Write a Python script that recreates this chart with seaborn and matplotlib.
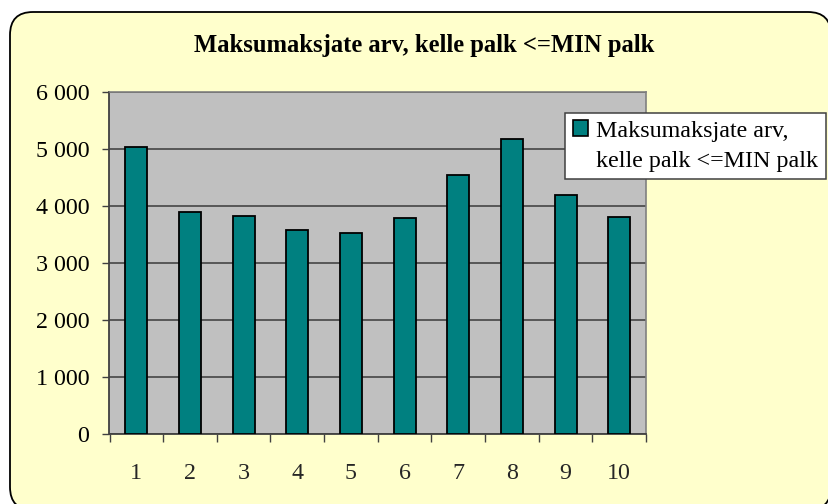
import matplotlib
matplotlib.use("Agg")
import matplotlib.pyplot as plt
import matplotlib.transforms as mtransforms
import seaborn as sns
import pandas as pd
from matplotlib.patches import FancyBboxPatch, Patch

categories = ["1", "2", "3", "4", "5", "6", "7", "8", "9", "10"]
values = [5030, 3885, 3830, 3575, 3520, 3780, 4540, 5180, 4185, 3800]
yticks = [0, 1000, 2000, 3000, 4000, 5000, 6000]
ytick_labels = ["0", "1 000", "2 000", "3 000", "4 000", "5 000", "6 000"]
title = "Maksumaksjate arv, kelle palk <=MIN palk"
legend_lines = ["Maksumaksjate arv,", "kelle palk <=MIN palk"]

sns.set_theme(style="white")
plt.rcParams['font.family'] = ['Liberation Serif', 'DejaVu Serif']

W, H = 829, 504
DPI = 100
px = 72.0 / DPI  # points per pixel
fig = plt.figure(figsize=(W / DPI, H / DPI), dpi=DPI)
fig.patch.set_facecolor("white")

# rounded border background (pixel coordinates, origin bottom-left)
bx0, bx1, by_top, by_bot = 10, 831, 12, 510
bg = FancyBboxPatch((bx0, H - by_bot), bx1 - bx0, by_bot - by_top,
                    boxstyle="round,pad=0,rounding_size=23",
                    transform=mtransforms.IdentityTransform(),
                    facecolor="#FFFFCC", edgecolor="black", linewidth=1.3,
                    zorder=-10)
fig.patches.append(bg)

left, right, top, bottom = 109.5, 646, 92, 433.5
ax = fig.add_axes([left / W, (H - bottom) / H, (right - left) / W, (bottom - top) / H])
ax.set_zorder(1)
ax.set_facecolor("#C0C0C0")

df = pd.DataFrame({"cat": categories, "val": values})
sns.barplot(data=df, x="cat", y="val", color="#008080", saturation=1,
            width=0.41, edgecolor="black", linewidth=1.3, ax=ax, zorder=3)

ax.set_ylim(0, 6000)
ax.set_xlim(-0.5, len(categories) - 0.5)
ax.set_yticks(yticks)
ax.set_yticklabels(ytick_labels)
ax.yaxis.grid(True, color="#3a3a3a", linewidth=1.1, zorder=1)
ax.set_axisbelow(True)
ax.set_xlabel("")
ax.set_ylabel("")

fs = 24 * px
ax.tick_params(axis="y", direction="out", length=5, width=1, color="#404040",
               labelsize=fs, labelcolor="black", pad=9.5, left=True)
ax.tick_params(axis="x", which="major", length=0, labelsize=fs, pad=21)
ax.set_xticks([i - 0.5 for i in range(len(categories) + 1)], minor=True)
ax.tick_params(axis="x", which="minor", direction="out", length=5.5, width=1,
               color="#404040", bottom=True)

for s in ["top", "right"]:
    ax.spines[s].set_color("#808080")
    ax.spines[s].set_linewidth(1.2)
for s in ["left", "bottom"]:
    ax.spines[s].set_color("#404040")
    ax.spines[s].set_linewidth(1.3)

fig.text(424 / W, 1 - 45.5 / H, title, ha="center", va="center",
         fontsize=24.6 * px, fontweight="bold", color="black")

handles = [Patch(facecolor="#008080", edgecolor="black", linewidth=1.2),
           Patch(facecolor="none", edgecolor="none")]
leg = fig.legend(handles, legend_lines, loc="upper left",
                 bbox_to_anchor=(565 / W, 1 - 112.7 / H),
                 frameon=True, fancybox=False, framealpha=1,
                 facecolor="white", edgecolor="#404040",
                 fontsize=fs, handlelength=0.62, handleheight=0.62,
                 handletextpad=0.35, labelspacing=0.37,
                 borderpad=0.32, borderaxespad=0)
leg.set_zorder(5)
leg.get_frame().set_linewidth(1.1)
for t in leg.get_texts():
    t.set_color("black")

fig.savefig("out.png", dpi=DPI, facecolor=fig.get_facecolor())
